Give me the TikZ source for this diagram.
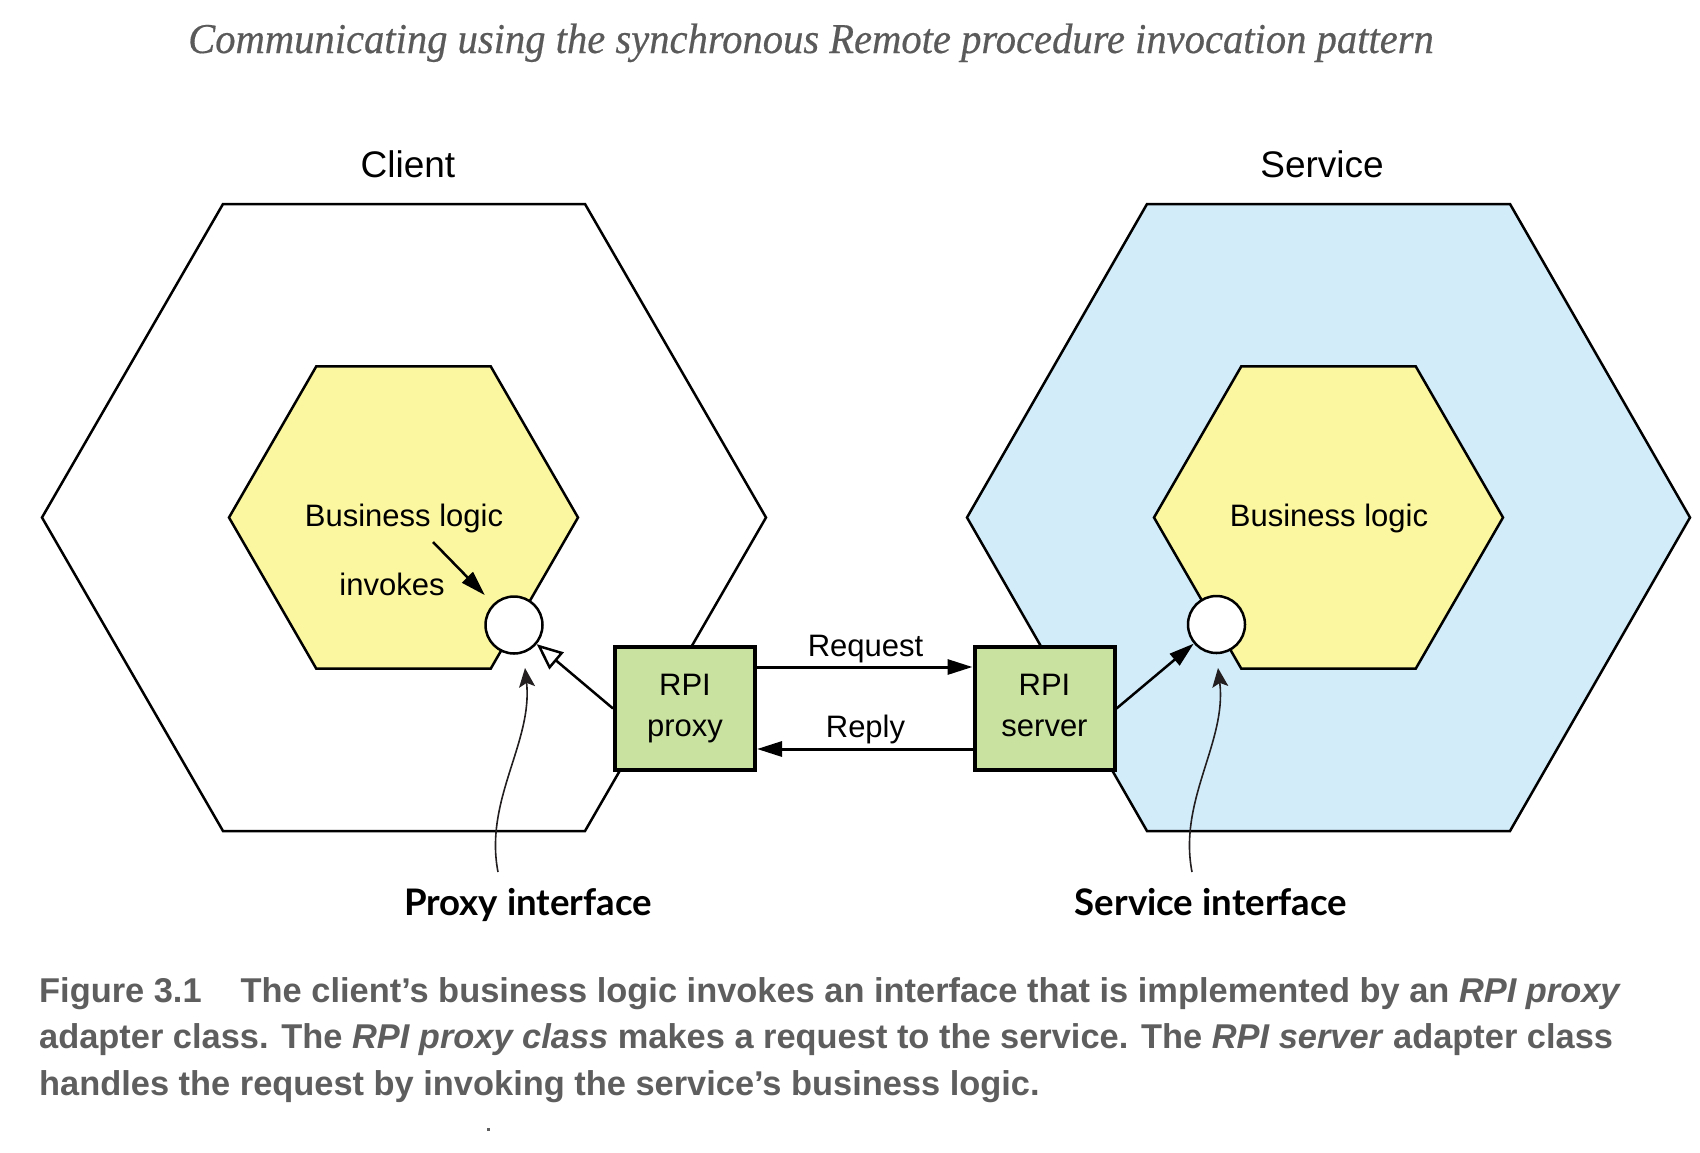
\documentclass[tikz,border=0pt]{standalone}
\usepackage{fontspec}
\setmainfont{Liberation Sans}
\newfontfamily\titlefont[FakeStretch=0.955,FakeBold=0.4]{Liberation Serif}
\newfontfamily\labfont{Lato}
\usetikzlibrary{arrows.meta,calc}
\definecolor{hexblue}{HTML}{D2ECFA}
\definecolor{hexyellow}{HTML}{FBF6A0}
\definecolor{boxgreen}{HTML}{CAE2A0}
\definecolor{capgray}{HTML}{5E5E5E}
\definecolor{titlegray}{HTML}{5A5A5A}
\definecolor{callout}{HTML}{231F20}
\begin{document}
\begin{tikzpicture}[x=1pt,y=-1pt,
  hexline/.style={line width=2.5pt,line join=miter},
  rpibox/.style={draw,line width=4pt,fill=boxgreen,minimum width=140pt,minimum height=123pt,inner sep=0pt,align=center,font=\fontsize{31}{41}\selectfont},
  port/.style={circle,draw,line width=2.5pt,fill=white,minimum size=57pt,inner sep=0pt},
  lbl/.style={anchor=base,inner sep=0pt,font=\fontsize{31}{37}\selectfont},
  sidelbl/.style={anchor=base,inner sep=0pt,font=\fontsize{37}{44}\selectfont},
  iflbl/.style={anchor=base,inner sep=0pt,font=\labfont\bfseries\fontsize{36.6}{44}\selectfont},
  caption/.style={anchor=base west,inner sep=0pt,text=capgray,font=\bfseries\fontsize{34.4}{46}\selectfont},
  flow/.style={line width=3pt,-{Triangle[length=25pt,width=15pt]}},
  opentip/.style={line width=2.5pt,-{Triangle[open,fill=white,length=26pt,width=22pt,line width=2.5pt]}},
  call/.style={line width=1.6pt,draw=callout,-{Stealth[length=19pt,width=16pt,inset=4pt]}}
]
\useasboundingbox (0,0) rectangle (1700,1152);
\fill[white] (0,0) rectangle (1700,1152);

% title
\node[anchor=base,inner sep=0pt,text=titlegray,font=\titlefont\itshape\fontsize{42.5}{50}\selectfont] (title) at (811,53)
  {Communicating using the synchronous Remote procedure invocation pattern};

% side labels
\node[sidelbl] (client) at (408,177) {Client};
\node[sidelbl] (service) at (1322,177) {Service};

% outer hexagons
\draw[hexline,fill=white] (42,517.5) -- (223,204) -- (585,204) -- (766,517.5) -- (585,831) -- (223,831) -- cycle;
\draw[hexline,fill=hexblue] (967,517.5) -- (1147,204) -- (1510,204) -- (1690,517.5) -- (1510,831) -- (1147,831) -- cycle;

% inner hexagons
\draw[hexline,fill=hexyellow] (229,517.5) -- (316.25,366.4) -- (490.75,366.4) -- (578,517.5) -- (490.75,668.6) -- (316.25,668.6) -- cycle;
\draw[hexline,fill=hexyellow] (1154,517.5) -- (1241.25,366.4) -- (1415.75,366.4) -- (1503,517.5) -- (1415.75,668.6) -- (1241.25,668.6) -- cycle;

\node[lbl] (bl1) at (404,526) {Business logic};
\node[lbl] (bl2) at (1329,526) {Business logic};
\node[lbl] (inv) at (392,595) {invokes};

% ports
\node[port] (pport) at (514,625) {};
\node[port] (sport) at (1216.5,624.5) {};

% adapters
\node[rpibox] (proxy) at (685,708.5) {RPI\\proxy};
\node[rpibox] (server) at (1044.5,708.5) {RPI\\server\vphantom{y}};

% request / reply
\draw[flow] ([yshift=-22pt]proxy.north east) -- ([yshift=-22pt]proxy.north east -| server.west);
\draw[flow] ([yshift=-104pt]server.north west) -- ([yshift=-104pt]server.north west -| proxy.east);
\node[lbl] (req) at (865.5,656) {Request};
\node[lbl] (rep) at (865.5,737) {Reply};

% adapter to ports
\draw[opentip] (proxy.west) -- (pport);
\draw[flow,line width=2.5pt] (server.east) -- (sport);

% invokes
\coordinate (invfrom) at (433,542);
\draw[line width=2.5pt,-{Triangle[length=25pt,width=15pt]},shorten >=12pt] (invfrom) -- (pport);

% interface labels and callouts
\node[iflbl] (pil) at (528,915) {Proxy interface};
\node[iflbl] (sil) at (1211,915) {Service interface};
\coordinate (pifoot) at (498,872);
\coordinate (pitip) at (525,668);
\coordinate (sifoot) at (1192,872);
\coordinate (sitip) at (1218,668);
\draw[call] (pifoot) .. controls (484,800) and (533,742) .. (pitip);
\draw[call] (sifoot) .. controls (1178,800) and (1227,742) .. (sitip);

% caption
\node[caption] (cap1) at (39,1002) {Figure 3.1\hspace*{39pt}The client’s business logic invokes an interface that is implemented by an \textit{RPI proxy}};
\node[caption] (cap2) at (39,1048) {adapter class. The \textit{RPI proxy class} makes a request to the service. The \textit{RPI server} adapter class};
\node[caption] (cap3) at (39,1095) {handles the request by invoking the service’s business logic.};

% stray dot
\fill[capgray] (486.5,1127.5) rectangle (489.5,1130.5);
\end{tikzpicture}
\end{document}
